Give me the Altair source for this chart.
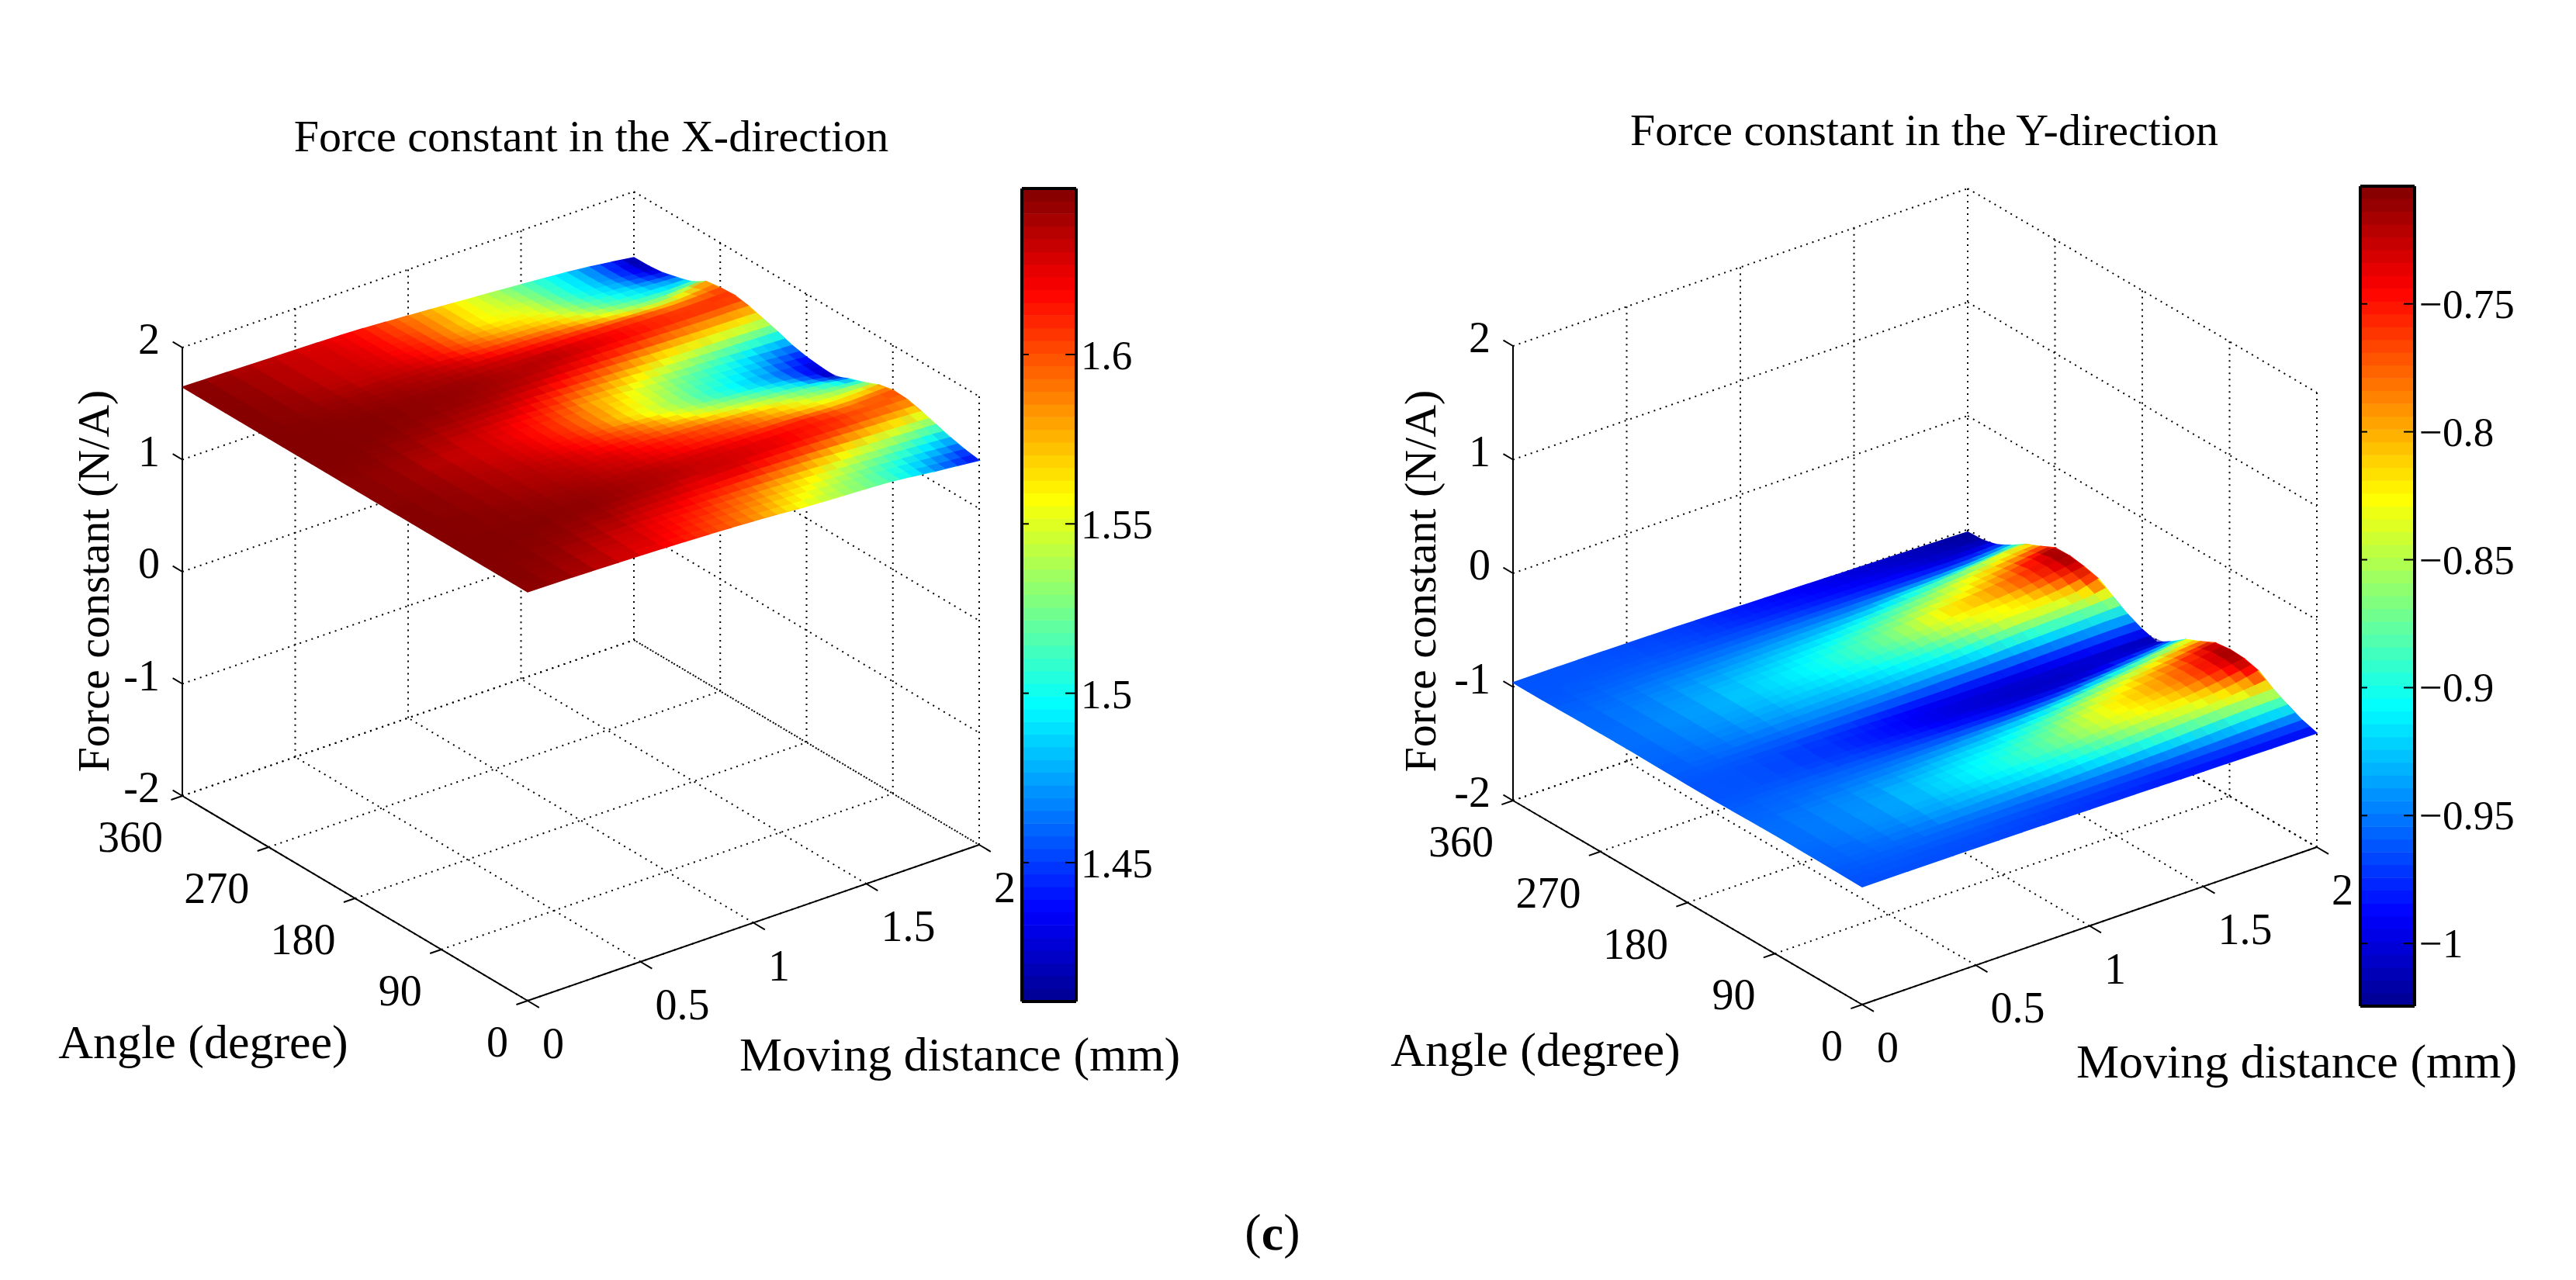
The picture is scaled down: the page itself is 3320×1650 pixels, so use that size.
import altair as alt
import pandas as pd

FONT = "Liberation Serif"

ANGLES = [360 - 15 * k for k in range(25)]
DISTANCES = [0, 0.2, 0.4, 0.6, 0.7, 0.8, 0.9, 1.0, 1.1, 1.2, 1.3, 1.4, 1.5, 1.6, 1.7, 1.8, 1.9, 2.0]

# Force constant, thousandths of N/A; one row per angle (360 down to 0), one column per distance
FX_ROWS = [
[1648,1640,1632,1625,1620,1612,1600,1587,1574,1560,1546,1532,1517,1502,1486,1465,1440,1411],
[1648,1642,1634,1627,1622,1613,1602,1590,1576,1560,1548,1536,1520,1503,1487,1464,1437,1414],
[1648,1643,1634,1628,1624,1615,1606,1590,1574,1558,1552,1545,1525,1505,1490,1472,1447,1428],
[1648,1644,1635,1630,1626,1618,1610,1594,1580,1568,1562,1552,1534,1515,1500,1488,1472,1462],
[1648,1645,1638,1632,1630,1624,1614,1602,1592,1582,1575,1566,1548,1530,1515,1503,1495,1500],
[1648,1646,1642,1638,1636,1632,1626,1615,1608,1602,1595,1585,1572,1555,1542,1535,1550,1580],
[1648,1647,1645,1642,1640,1638,1634,1630,1625,1620,1615,1610,1605,1600,1592,1585,1590,1600],
[1648,1648,1647,1645,1644,1643,1640,1636,1636,1635,1630,1625,1620,1615,1612,1610,1610,1608],
[1648,1648,1647,1645,1644,1642,1640,1637,1634,1628,1622,1615,1610,1603,1596,1590,1590,1585],
[1648,1648,1646,1642,1640,1638,1633,1628,1618,1610,1600,1590,1578,1570,1565,1560,1555,1548],
[1648,1647,1642,1636,1634,1630,1622,1610,1598,1588,1575,1562,1548,1538,1528,1522,1515,1510],
[1647,1645,1638,1630,1625,1618,1610,1598,1580,1570,1552,1540,1525,1515,1505,1490,1475,1465],
[1647,1644,1634,1628,1622,1615,1605,1592,1578,1562,1548,1532,1516,1505,1492,1478,1455,1438],
[1647,1644,1636,1629,1624,1616,1606,1592,1574,1556,1542,1528,1510,1498,1485,1468,1444,1422],
[1647,1645,1638,1632,1627,1620,1612,1600,1590,1575,1556,1540,1528,1518,1505,1488,1456,1415],
[1648,1646,1640,1635,1632,1626,1618,1610,1600,1588,1578,1562,1550,1540,1528,1516,1500,1470],
[1648,1646,1642,1637,1635,1630,1626,1618,1612,1605,1598,1590,1578,1565,1550,1535,1525,1515],
[1648,1647,1644,1640,1638,1634,1630,1624,1618,1612,1606,1600,1590,1580,1568,1558,1560,1570],
[1648,1647,1646,1643,1641,1638,1636,1632,1628,1625,1620,1615,1612,1610,1600,1590,1595,1600],
[1648,1648,1647,1645,1643,1640,1638,1635,1632,1630,1628,1625,1620,1615,1610,1602,1598,1592],
[1648,1648,1646,1642,1638,1635,1632,1626,1628,1627,1620,1615,1608,1600,1590,1580,1572,1560],
[1648,1647,1643,1636,1630,1626,1620,1615,1610,1605,1595,1588,1575,1560,1548,1540,1530,1520],
[1648,1646,1638,1628,1622,1616,1610,1600,1592,1580,1570,1560,1545,1532,1522,1510,1495,1480],
[1648,1644,1634,1625,1618,1610,1602,1592,1582,1568,1556,1542,1530,1516,1502,1485,1468,1450],
[1647,1642,1632,1620,1613,1605,1596,1585,1572,1556,1545,1535,1526,1515,1495,1470,1450,1430],
]

FY_ROWS = [
[-962,-962,-964,-968,-970,-974,-978,-982,-986,-990,-994,-998,-1002,-1006,-1010,-1013,-1018,-1022],
[-962,-962,-963,-966,-968,-972,-976,-980,-983,-986,-990,-993,-997,-1001,-1006,-1010,-1014,-1018],
[-962,-960,-960,-962,-964,-966,-968,-970,-973,-976,-979,-982,-985,-988,-992,-996,-994,-985],
[-960,-957,-955,-955,-955,-955,-955,-955,-956,-957,-958,-958,-958,-957,-955,-950,-935,-915],
[-958,-953,-948,-945,-944,-942,-940,-938,-936,-934,-930,-918,-905,-895,-880,-862,-840,-830],
[-957,-950,-942,-935,-932,-928,-924,-920,-914,-904,-892,-880,-868,-848,-832,-815,-795,-775],
[-956,-948,-938,-926,-922,-917,-910,-902,-892,-880,-868,-852,-840,-828,-805,-780,-745,-712],
[-956,-947,-936,-922,-916,-910,-903,-892,-882,-868,-850,-830,-812,-800,-785,-765,-738,-708],
[-956,-948,-938,-925,-920,-915,-908,-900,-890,-878,-860,-842,-830,-826,-815,-790,-762,-728],
[-957,-950,-942,-932,-928,-925,-920,-914,-906,-898,-885,-868,-850,-832,-830,-830,-815,-762],
[-959,-953,-948,-942,-940,-938,-935,-930,-924,-920,-915,-905,-890,-880,-872,-868,-860,-845],
[-960,-958,-958,-955,-955,-955,-955,-955,-955,-952,-950,-948,-945,-940,-935,-930,-925,-925],
[-962,-962,-966,-972,-975,-980,-985,-990,-992,-994,-994,-994,-992,-988,-985,-982,-980,-982],
[-962,-963,-968,-975,-980,-985,-990,-996,-1000,-1004,-1006,-1008,-1008,-1008,-1008,-1012,-1016,-1020],
[-962,-962,-965,-970,-974,-978,-982,-988,-992,-996,-1000,-1002,-1002,-1000,-990,-975,-960,-940],
[-960,-958,-958,-960,-962,-964,-966,-968,-970,-972,-970,-965,-955,-935,-915,-895,-870,-845],
[-958,-955,-952,-950,-948,-946,-944,-940,-935,-930,-920,-905,-885,-865,-850,-830,-805,-790],
[-956,-950,-945,-938,-934,-928,-922,-918,-908,-895,-880,-860,-842,-825,-805,-785,-755,-725],
[-955,-948,-942,-928,-922,-915,-908,-900,-888,-875,-855,-835,-820,-805,-790,-770,-740,-708],
[-955,-948,-940,-925,-918,-910,-902,-892,-880,-866,-850,-835,-825,-815,-800,-775,-745,-715],
[-957,-950,-942,-930,-925,-918,-912,-904,-896,-884,-870,-855,-842,-833,-830,-815,-790,-748],
[-958,-954,-948,-940,-938,-935,-930,-925,-918,-910,-900,-890,-878,-866,-855,-845,-840,-835],
[-960,-958,-956,-955,-955,-955,-955,-952,-950,-947,-945,-940,-935,-928,-920,-912,-905,-900],
[-962,-961,-962,-963,-965,-966,-968,-970,-970,-971,-972,-972,-970,-968,-968,-964,-962,-960],
[-964,-964,-965,-967,-968,-970,-972,-974,-976,-978,-981,-984,-986,-988,-990,-992,-994,-996],
]

DIST_TICKS = [0, 0.5, 1, 1.5, 2]
ANGLE_TICKS = [0, 90, 180, 270, 360]
FORCE_TICKS = [-2, -1, 0, 1, 2]
FX_BAR_TICKS = [1.45, 1.5, 1.55, 1.6]
FY_BAR_TICKS = [-1, -0.95, -0.9, -0.85, -0.8, -0.75]
FX_RANGE = [1.409, 1.649]
FY_RANGE = [-1.0245, -0.704]
JET_STOPS = [0, 7 / 63, 23 / 63, 39 / 63, 55 / 63, 1]
JET = ["#000090", "#0000ff", "#00ffff", "#ffff00", "#ff0000", "#800000"]
BAR_LEVELS = 64

X_DOM = [8, 3312]
Y_DOM = [1642, 8]
xs = alt.Scale(domain=X_DOM, nice=False, zero=False)
ys = alt.Scale(domain=Y_DOM, nice=False, zero=False)
X = alt.X("x:Q", scale=xs, axis=None)
Y = alt.Y("y:Q", scale=ys, axis=None)


def panel(rows, vrange, bar_ticks, origin, dvec, avec, zstep, bar, title, title_xy, ang_xy, dist_xy, force_xy, bar_dy):
    ox, oy = origin

    def proj(d, a, z):
        return (ox + dvec[0] * d / 2 + avec[0] * (a / 360),
                oy + dvec[1] * d / 2 + avec[1] * (a / 360) - (z + 2) * zstep)

    def seg(p, q):
        return dict(x=p[0], y=p[1], x2=q[0], y2=q[1])

    dotted = []
    for d in DIST_TICKS:
        dotted.append(seg(proj(d, 0, -2), proj(d, 360, -2)))
        dotted.append(seg(proj(d, 360, -2), proj(d, 360, 2)))
    for a in ANGLE_TICKS:
        dotted.append(seg(proj(0, a, -2), proj(2, a, -2)))
        dotted.append(seg(proj(2, a, -2), proj(2, a, 2)))
    for z in FORCE_TICKS:
        dotted.append(seg(proj(0, 360, z), proj(2, 360, z)))
        dotted.append(seg(proj(2, 360, z), proj(2, 0, z)))

    solid = [seg(proj(0, 360, -2), proj(0, 360, 2)),
             seg(proj(0, 360, -2), proj(0, 0, -2)),
             seg(proj(0, 0, -2), proj(2, 0, -2))]
    for z in FORCE_TICKS:
        solid.append(seg(proj(0, 360, z), proj(0, 370, z)))
    for a in ANGLE_TICKS:
        solid.append(seg(proj(0, a, -2), proj(-0.05, a, -2)))
    for d in DIST_TICKS:
        solid.append(seg(proj(d, 0, -2), proj(d, -12, -2)))

    nr, nc = len(ANGLES), len(DISTANCES)
    val = [[rows[r][c] / 1000 for c in range(nc)] for r in range(nr)]

    # cells between grid vertices, coloured by the mean of their four read values
    quads = []
    qid = 0
    for i in range(nr - 1):
        for j in range(nc - 2, -1, -1):
            corners = [(i, j), (i, j + 1), (i + 1, j + 1), (i + 1, j)]
            vals = [val[r][c] for r, c in corners]
            mean = sum(vals) / 4
            for n, ((r, c), v) in enumerate(zip(corners + corners[:1], vals + vals[:1])):
                px, py = proj(DISTANCES[c], ANGLES[r], v)
                quads.append(dict(q=qid, n=n, x=px, y=py, v=mean))
            qid += 1

    # second lattice centred on each read value, laid over the first
    def corner(i0, i1, j0, j1):
        rs = sorted({max(0, i0), min(nr - 1, i1)})
        cs = sorted({max(0, j0), min(nc - 1, j1)})
        a = sum(ANGLES[r] for r in rs) / len(rs)
        d = sum(DISTANCES[c] for c in cs) / len(cs)
        z = sum(val[r][c] for r in rs for c in cs) / (len(rs) * len(cs))
        return proj(d, a, z)

    dual = []
    qid = 0
    for i in range(nr):
        for j in range(nc - 1, -1, -1):
            pts = [corner(i - 1, i, j - 1, j), corner(i - 1, i, j, j + 1),
                   corner(i, i + 1, j, j + 1), corner(i, i + 1, j - 1, j)]
            for n, p in enumerate(pts + pts[:1]):
                dual.append(dict(q=qid, n=n, x=p[0], y=p[1], v=val[i][j]))
            qid += 1

    domain = [vrange[0] + f * (vrange[1] - vrange[0]) for f in JET_STOPS]
    cscale = alt.Scale(domain=domain, range=JET, interpolate="rgb", nice=False, zero=False)
    bar_x0, bar_x1, bar_y0, bar_y1 = bar

    surface = alt.Chart(pd.DataFrame(quads)).mark_line(strokeWidth=1.5, interpolate="linear").encode(
        x=X, y=Y,
        detail="q:N",
        order="n:Q",
        stroke=alt.Stroke("v:Q", scale=cscale, legend=None),
        fill=alt.Fill("v:Q", scale=cscale, legend=None),
    )
    overlay = alt.Chart(pd.DataFrame(dual)).mark_line(strokeOpacity=0, fillOpacity=0.5, interpolate="linear").encode(
        x=X, y=Y,
        detail="q:N",
        order="n:Q",
        fill=alt.Fill("v:Q", scale=cscale, legend=None),
    )

    # colour bar: one band per colormap level, drawn through the same colour scale
    def bar_y(value):
        return bar_y1 - (value - vrange[0]) / (vrange[1] - vrange[0]) * (bar_y1 - bar_y0)

    step = (vrange[1] - vrange[0]) / BAR_LEVELS
    bands = []
    for k in range(BAR_LEVELS):
        lo = vrange[0] + k * step
        bands.append(dict(x=bar_x0, x2=bar_x1, y=bar_y(lo), y2=bar_y(lo + step) - 0.6, v=lo + step / 2))
    colorbar = alt.Chart(pd.DataFrame(bands)).mark_rect().encode(
        x=X, x2="x2:Q", y=Y, y2="y2:Q", fill=alt.Fill("v:Q", scale=cscale, legend=None))
    frame = [seg((bar_x0, bar_y0), (bar_x1, bar_y0)), seg((bar_x1, bar_y0), (bar_x1, bar_y1)),
             seg((bar_x1, bar_y1), (bar_x0, bar_y1)), seg((bar_x0, bar_y1), (bar_x0, bar_y0))]

    bar_ticks_rows = []
    bar_labels = []
    for t in bar_ticks:
        yy = bar_y(t)
        bar_ticks_rows.append(dict(x=bar_x0, x2=bar_x0 + 9, y=yy, y2=yy))
        bar_ticks_rows.append(dict(x=bar_x1 - 14, x2=bar_x1, y=yy, y2=yy))
        bar_labels.append(dict(x=bar_x1 + 6, y=yy + bar_dy, t=f"{t:g}".replace("-", "\u2212")))

    def rules(rows_, **kw):
        return alt.Chart(pd.DataFrame(rows_)).mark_rule(color="#000", **kw).encode(x=X, y=Y, x2="x2:Q", y2="y2:Q")

    texts = []
    for z in FORCE_TICKS:
        p = proj(0, 360, z)
        texts.append(dict(x=p[0] - 29, y=p[1] - 9, t=str(z), align="right"))
    for a in ANGLE_TICKS:
        p = proj(0, a, -2)
        texts.append(dict(x=p[0] - 25, y=p[1] + 55, t=str(a), align="right"))
    for d in DIST_TICKS:
        p = proj(d, 0, -2)
        texts.append(dict(x=p[0] + 19, y=p[1] + 57, t=f"{d:g}", align="left"))
    tdf = pd.DataFrame(texts)

    def text_layer(df, **kw):
        return alt.Chart(df).mark_text(font=FONT, color="#000", baseline="middle", **kw).encode(
            x=X, y=Y, text="t:N")

    layers = [rules(dotted, strokeDash=[2, 6], strokeWidth=2), rules(solid, strokeWidth=2), surface, overlay,
              colorbar, rules(frame, strokeWidth=4), rules(bar_ticks_rows, strokeWidth=2)]
    for al in ("left", "right"):
        layers.append(text_layer(tdf[tdf["align"] == al], align=al, fontSize=56))
    layers.append(text_layer(pd.DataFrame(bar_labels), align="left", fontSize=53))
    layers.append(text_layer(pd.DataFrame([dict(x=title_xy[0], y=title_xy[1], t=title)]), align="center", fontSize=58))
    layers.append(text_layer(pd.DataFrame([dict(x=ang_xy[0], y=ang_xy[1], t="Angle (degree)"),
                                           dict(x=dist_xy[0], y=dist_xy[1], t="Moving distance (mm)")]),
                             align="center", fontSize=62))
    layers.append(text_layer(pd.DataFrame([dict(x=force_xy[0], y=force_xy[1], t="Force constant (N/A)")]),
                             align="center", fontSize=58, angle=270))
    return layers


left = panel(FX_ROWS, FX_RANGE, FX_BAR_TICKS, (680, 1290), (582, -201), (-445, -264), 144.5,
             (1317, 1387, 243, 1291), "Force constant in the X-direction", (762, 178),
             (262, 1345), (1237, 1361), (123, 749), 3)
right = panel(FY_ROWS, FY_RANGE, FY_BAR_TICKS, (2400, 1295), (586, -203), (-450, -263), 146.5,
              (3042, 3112, 240, 1297), "Force constant in the Y-direction", (2480, 170),
              (1979, 1355), (2960, 1370), (1833, 749), 2)

cap_plain = alt.Chart(pd.DataFrame([dict(x=1615, y=1590, t="("), dict(x=1665, y=1590, t=")")])).mark_text(
    font=FONT, fontSize=64, color="#000", baseline="middle", align="center"
).encode(x=X, y=Y, text="t:N")
cap_bold = alt.Chart(pd.DataFrame([dict(x=1640, y=1592, t="c")])).mark_text(
    font=FONT, fontSize=64, fontWeight="bold", color="#000", baseline="middle", align="center"
).encode(x=X, y=Y, text="t:N")

chart = alt.layer(*left, *right, cap_plain, cap_bold).resolve_scale(fill="independent", stroke="independent").properties(
    width=3304, height=1634, padding=0, autosize=alt.AutoSizeParams(type="none"),
    background="#ffffff",
).configure_view(stroke=None)

chart.save("out.html", embed_options={"renderer": "svg", "actions": False})
